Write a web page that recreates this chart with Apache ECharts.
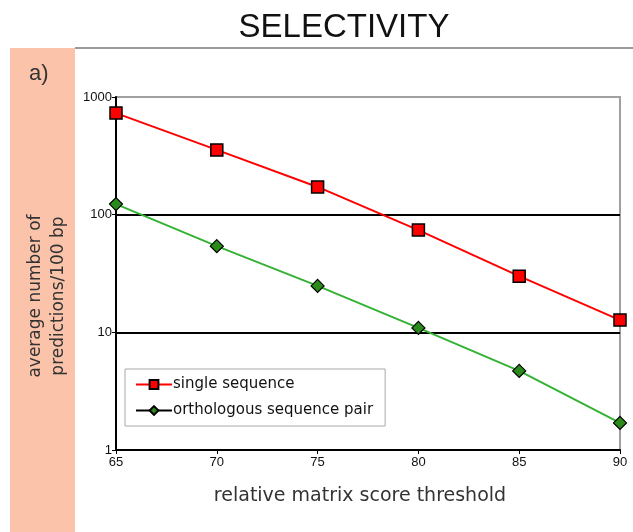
<!DOCTYPE html>
<html>
<head>
<meta charset="utf-8">
<script src="https://cdn.jsdelivr.net/npm/echarts@6/dist/echarts.min.js"></script>
<style>
  html, body { margin: 0; padding: 0; background: #fff; }
  #chart { width: 633px; height: 532px; }
</style>
</head>
<body>
<div id="chart"></div>
<script>
const thresholds = [65, 70, 75, 80, 85, 90];
const singleSeq = [730, 355, 172, 74, 30, 12.7];
const orthoPair = [123, 54, 24.8, 10.9, 4.7, 1.7];
const seriesNames = ['single sequence', 'orthologous sequence pair'];

const chart = echarts.init(document.getElementById('chart'));
const font = 'Liberation Sans, Arial, sans-serif';
const wide = 'DejaVu Sans, Verdana, sans-serif';

chart.setOption({
  backgroundColor: '#fff',
  animation: false,
  textStyle: { fontFamily: font },
  graphic: [
    // salmon side band
    { type: 'rect', shape: { x: 10, y: 48, width: 65, height: 484 }, style: { fill: '#fbc3aa' }, z: -1 },
    // top separator line
    { type: 'rect', shape: { x: 75, y: 47, width: 558, height: 2 }, style: { fill: '#9a9a9a' }, z: -1 },
    { type: 'text', left: 29, top: 63, style: { text: 'a)', font: '22px ' + font, fill: '#333' } },
    {
      type: 'text', x: 47, y: 296, rotation: Math.PI / 2,
      style: {
        text: 'average number of\npredictions/100 bp',
        font: '17px ' + wide, fill: '#333', align: 'center', verticalAlign: 'middle', lineHeight: 23
      }
    }
  ],
  title: {
    text: 'SELECTIVITY',
    left: 339, top: 6, textAlign: 'center',
    textStyle: { fontSize: 33, fontWeight: 'normal', color: '#111', fontFamily: font }
  },
  grid: {
    left: 116, right: 13, top: 97, bottom: 82,
    show: true, borderColor: '#a0a0a0', borderWidth: 2, backgroundColor: '#fff'
  },
  legend: {
    orient: 'vertical',
    left: 125, top: 369,
    padding: [8, 12, 8, 10],
    itemGap: 11,
    itemWidth: 36, itemHeight: 11,
    backgroundColor: '#fff',
    borderColor: '#a8a8a8', borderWidth: 1,
    textStyle: { fontSize: 15, color: '#111', fontFamily: wide, padding: [0, 0, 0, -4] },
    data: [
      { name: seriesNames[0] },
      { name: seriesNames[1], lineStyle: { color: '#000' } }
    ]
  },
  xAxis: {
    type: 'value',
    min: 65, max: 90, interval: 5,
    axisLine: { lineStyle: { color: '#000', width: 2 } },
    axisTick: { show: true, length: 4, lineStyle: { color: '#000' } },
    axisLabel: { color: '#111', fontSize: 13, margin: 6 },
    splitLine: { show: false },
    name: 'relative matrix score threshold',
    nameLocation: 'middle', nameGap: 37,
    nameTextStyle: { fontSize: 19, color: '#333', fontFamily: wide, padding: [0, 16, 0, 0] }
  },
  yAxis: {
    type: 'log',
    min: 1, max: 1000, logBase: 10,
    axisLine: { show: true, lineStyle: { color: '#000', width: 2 } },
    axisTick: { show: true, length: 4, lineStyle: { color: '#000' } },
    axisLabel: { color: '#111', fontSize: 13, margin: 4, formatter: (v) => String(v) },
    minorTick: { show: false },
    splitLine: { show: true, lineStyle: { color: ['#000', '#000', '#000', '#a0a0a0'], width: 2 } }
  },
  series: [
    {
      name: seriesNames[0],
      type: 'line',
      data: thresholds.map((t, i) => [t, singleSeq[i]]),
      symbol: 'rect', symbolSize: 12,
      lineStyle: { color: '#ff0000', width: 2 },
      itemStyle: { color: '#ff0000', borderColor: '#000', borderWidth: 1.5 },
      z: 3
    },
    {
      name: seriesNames[1],
      type: 'line',
      data: thresholds.map((t, i) => [t, orthoPair[i]]),
      symbol: 'diamond', symbolSize: 13,
      lineStyle: { color: '#33b233', width: 2 },
      itemStyle: { color: '#2a8a1a', borderColor: '#000', borderWidth: 1.2 },
      z: 3
    }
  ]
});
</script>
</body>
</html>
